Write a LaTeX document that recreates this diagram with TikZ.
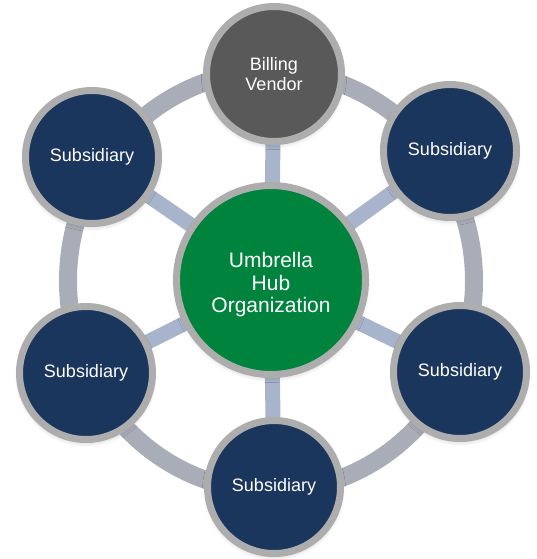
\documentclass[tikz,border=0pt]{standalone}
\usepackage{fontspec}
\setmainfont{Liberation Sans}
\usetikzlibrary{shadows.blur}
\definecolor{navy}{HTML}{1B365D}
\definecolor{hubgreen}{HTML}{00843D}
\definecolor{vendorgray}{HTML}{595959}
\definecolor{rimgray}{HTML}{ADADAD}
\definecolor{ringgray}{HTML}{A9ADB8}
\definecolor{spokeblue}{HTML}{A7B4CB}
\begin{document}
\begin{tikzpicture}[x=1pt,y=-1pt,
  disc/.style={circle, draw=rimgray, line width=7pt, text=white, align=center,
    inner sep=0pt, minimum size=133pt,
    font=\fontsize{18}{20}\selectfont,
    blur shadow={shadow xshift=0pt, shadow yshift=-3pt, shadow blur radius=5pt,
      shadow blur steps=8, shadow opacity=22}},
  member/.style={disc, fill=navy},
  vendor/.style={disc, fill=vendorgray, minimum size=135pt},
  hubdisc/.style={disc, fill=hubgreen, minimum size=189pt},
  hubtext/.style={text=white, align=center, inner sep=0pt,
    font=\fontsize{21}{22.5}\selectfont},
  spoke/.style={draw=spokeblue, line width=15pt},
  ring/.style={draw=ringgray, line width=18pt}]
\useasboundingbox (0,0) rectangle (536,559);

% outer ring linking the members
\path[ring] (271,281) ellipse [x radius=203, y radius=210];

% hub and members
\coordinate (c) at (271,280);
\coordinate (cv) at (274,74);
\coordinate (ctl) at (92,157);
\coordinate (ctr) at (450,151);
\coordinate (cbr) at (460,372);
\coordinate (cb) at (274,487);
\coordinate (cbl) at (86,373);

% spokes from the hub
\foreach \p in {cv,ctl,ctr,cbr,cb,cbl} \path[spoke] (c) -- (\p);

\node[vendor] (v) at (cv) {Billing\\Vendor};
\node[member] (tl) at (ctl) {Subsidiary};
\node[member] (tr) at (ctr) {Subsidiary};
\node[member] (br) at (cbr) {Subsidiary};
\node[member] (b) at (cb) {Subsidiary};
\node[member] (bl) at (cbl) {Subsidiary};
\node[hubdisc] (hub) at (c) {};
\node[hubtext] (hublabel) at (271,285) {Umbrella\\Hub\\Organization};
\end{tikzpicture}
\end{document}
